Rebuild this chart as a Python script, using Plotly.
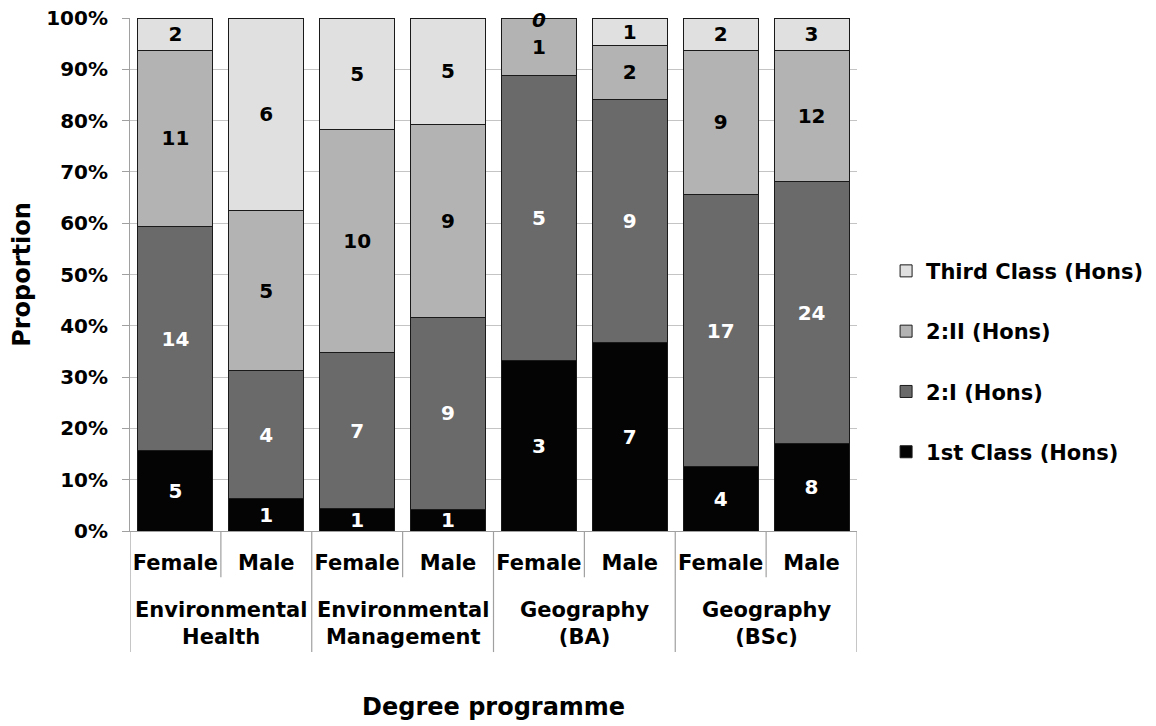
import plotly.graph_objects as go

programmes = ["Environmental<br>Health", "Environmental<br>Management",
              "Geography<br>(BA)", "Geography<br>(BSc)"]
sexes = ["Female", "Male", "Female", "Male", "Female", "Male", "Female", "Male"]
programme_of_bar = [0, 0, 1, 1, 2, 2, 3, 3]

first_class = [5, 1, 1, 1, 3, 7, 4, 8]
two_one = [14, 4, 7, 9, 5, 9, 17, 24]
two_two = [11, 5, 10, 9, 1, 2, 9, 12]
third_class = [2, 6, 5, 5, 0, 1, 2, 3]

series = [
    ("1st Class (Hons)", first_class, "#040404", "white"),
    ("2:I (Hons)", two_one, "#6a6a6a", "white"),
    ("2:II (Hons)", two_two, "#b3b3b3", "black"),
    ("Third Class (Hons)", third_class, "#dfe0df", "black"),
]

FONT = "DejaVu Sans, Liberation Sans, Arial, sans-serif"
xpos = list(range(len(sexes)))
totals = [sum(s[1][i] for s in series) for i in xpos]

fig = go.Figure()
annotations = []
for k, (name, vals, col, tcol) in enumerate(series):
    fig.add_trace(go.Bar(
        x=xpos, y=vals, name=name,
        marker=dict(color=col, line=dict(color="#1a1a1a", width=1)),
        text=[str(v) if v else "" for v in vals], textposition="inside",
        insidetextanchor="middle", textangle=0,
        insidetextfont=dict(color=tcol, size=20, family=FONT, weight="bold"),
        cliponaxis=False, legendgroup=name, legendrank=len(series) - k,
    ))
    # zero-count segments: label at the top of the stack
    for i, v in enumerate(vals):
        if v == 0:
            cum = sum(series[j][1][i] for j in range(k + 1))
            annotations.append(dict(text="0", x=i, y=100 * cum / totals[i], xref="x", yref="y",
                                    yanchor="middle", yshift=-2, showarrow=False,
                                    font=dict(size=20, family=FONT, weight="bold",
                                              style="italic", color="black")))

# divider lines below the category axis
shapes = []
for i in range(len(sexes) + 1):
    group_edge = (i == 0) or (i == len(sexes)) or (programme_of_bar[i] != programme_of_bar[i - 1])
    shapes.append(dict(type="line", xref="x", yref="paper", x0=i - 0.5, x1=i - 0.5,
                       y0=0, y1=-0.236 if group_edge else -0.09,
                       line=dict(color="#a0a0a0", width=1.2)))

for g, label in enumerate(programmes):
    idx = [i for i, p in enumerate(programme_of_bar) if p == g]
    annotations.append(dict(text=label, x=sum(idx) / len(idx), xref="x", y=-0.181, yref="paper",
                            yanchor="middle", showarrow=False,
                            font=dict(size=21, family=FONT, weight="bold", color="black")))
annotations.append(dict(text="Degree programme", x=0.5, xref="paper", y=-0.343, yref="paper",
                        yanchor="middle", showarrow=False,
                        font=dict(size=24, family=FONT, weight="bold", color="black")))

fig.update_layout(
    barmode="stack", barnorm="percent", bargap=0.175,
    width=1148, height=718,
    margin=dict(l=122, r=299, t=10, b=195, autoexpand=False),
    paper_bgcolor="white", plot_bgcolor="white",
    font=dict(family=FONT, size=20, color="black", weight="bold"),
    uniformtext=dict(minsize=20, mode="show"),
    legend=dict(traceorder="grouped", x=1.040, y=0.33, xanchor="left", yanchor="middle",
                tracegroupgap=30, font=dict(size=21, family=FONT, weight="bold"),
                itemwidth=30),
    showlegend=True,
    shapes=shapes, annotations=annotations,
)
fig.update_yaxes(
    range=[0, 100], dtick=10, ticksuffix="%", showgrid=True, gridcolor="#c4c4c4",
    gridwidth=1, showline=True, linecolor="#a0a0a0", ticks="outside", ticklen=7,
    tickcolor="#a0a0a0", ticklabelstandoff=10, ticklabeloverflow="allow", zeroline=False,
    tickfont=dict(size=20, family=FONT, weight="bold"),
    title=dict(text="Proportion", font=dict(size=24, family=FONT, weight="bold"), standoff=22),
)
fig.update_xaxes(
    range=[-0.5, len(sexes) - 0.5], tickvals=xpos, ticktext=sexes, showgrid=False,
    showline=True, linecolor="#a0a0a0", ticks="", ticklabelstandoff=13, zeroline=False,
    tickfont=dict(size=21, family=FONT, weight="bold"),
)

fig.write_html("out.html")
